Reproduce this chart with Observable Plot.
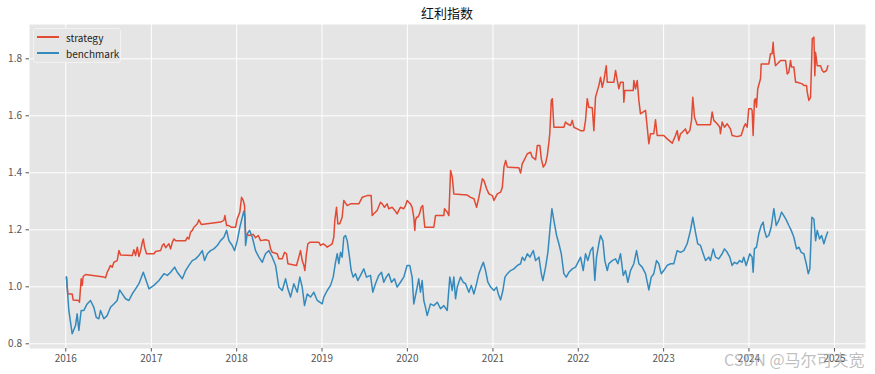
<!DOCTYPE html>
<html>
<head>
<meta charset="utf-8">
<script src="https://cdn.jsdelivr.net/npm/d3@7"></script>
<script src="https://cdn.jsdelivr.net/npm/@observablehq/plot@0.6"></script>
<style>
  body { margin: 0; background: #ffffff; }
  #wrap { position: relative; width: 875px; height: 374px; font-family: "Noto Sans CJK SC", "Noto Sans", sans-serif; }
  #title { position: absolute; left: 29px; width: 836px; top: 3px; text-align: center; font-size: 13px; color: #111; }
  #legend { position: absolute; left: 33px; top: 28px; width: 88px; height: 35px; box-sizing: border-box;
            border: 1px solid #f2f2f2; border-radius: 3px; background: #E5E5E5; }
  .lg-row { position: absolute; left: 0; height: 16px; display: flex; align-items: center; font-size: 10px; color: #222; }
  .lg-line { display: inline-block; width: 22px; height: 2px; margin-left: 3px; margin-right: 7px; }
  #mark { position: absolute; left: 724px; top: 347px; font-size: 16px; color: rgba(170,170,170,0.75); white-space: nowrap; }
</style>
</head>
<body>
<div id="wrap"></div>
<script>
// ---- data (decimal year, value) ----
const stratYears = [
2016.008,2016.024,2016.075,2016.086,2016.153,2016.160,2016.180,2016.192,2016.203,2016.231,
2016.445,2016.465,2016.484,2016.504,2016.523,2016.543,2016.562,2016.601,2016.621,2016.640,
2016.777,2016.796,2016.816,2016.836,2016.855,2016.875,2016.894,2016.906,2016.921,2016.944,
2017.031,2017.050,2017.109,2017.128,2017.148,2017.167,2017.206,2017.226,2017.246,2017.265,
2017.285,2017.402,2017.421,2017.440,2017.460,2017.480,
2017.499,2017.539,2017.557,2017.585,2017.811,2017.850,2017.862,2017.882,2017.909,2017.937,
2017.987,2018.007,2018.037,2018.057,2018.077,2018.092,2018.104,2018.143,2018.194,2018.221,
2018.253,2018.280,2018.338,2018.377,2018.397,2018.417,2018.475,2018.494,2018.534,2018.561,
2018.584,2018.600,2018.701,2018.728,2018.748,2018.768,2018.787,2018.799,2018.815,2018.834,
2018.857,2018.963,2018.983,2019.014,2019.042,
2019.061,2019.119,2019.138,2019.150,2019.170,2019.185,2019.208,2019.236,2019.255,2019.295,
2019.334,2019.431,2019.471,2019.529,2019.576,2019.588,2019.607,2019.646,2019.685,2019.705,
2019.732,2019.763,2019.782,2019.822,2019.853,2019.880,2019.899,2019.919,2019.958,2019.978,
2019.998,2020.016,2020.036,2020.056,2020.075,2020.087,2020.095,2020.107,2020.122,2020.142,
2020.162,2020.180,2020.192,2020.204,2020.309,2020.329,2020.426,2020.434,2020.466,2020.485,
2020.505,2020.525,2020.543,2020.700,2020.739,2020.778,2020.809,2020.836,2020.876,2020.895,
2020.926,2020.953,2020.993,2021.012,2021.051,2021.090,2021.110,2021.129,2021.149,2021.169,
2021.304,2021.324,2021.344,2021.363,2021.403,2021.441,2021.461,2021.500,2021.520,2021.550,
2021.567,2021.590,2021.617,2021.637,2021.656,2021.667,2021.684,2021.696,2021.714,2021.831,
2021.851,2021.871,2021.910,2021.930,2021.948,2021.988,
2022.027,2022.066,2022.085,2022.105,2022.124,2022.164,2022.183,2022.202,2022.241,2022.261,
2022.281,2022.300,2022.328,2022.340,2022.417,2022.437,2022.457,2022.476,2022.495,2022.527,
2022.534,2022.546,2022.644,2022.651,2022.671,2022.691,2022.710,2022.729,2022.788,2022.808,
2022.827,2022.846,2022.885,2022.905,2022.925,2023.002,2023.042,2023.101,2023.139,2023.159,
2023.178,2023.198,2023.218,2023.256,2023.276,2023.307,2023.327,2023.342,2023.362,2023.393,
2023.549,2023.569,2023.588,2023.628,2023.658,2023.666,2023.686,2023.713,2023.745,2023.783,
2023.803,2023.862,2023.909,2023.939,2023.959,2023.979,2023.998,2024.026,2024.037,2024.049,
2024.064,2024.076,2024.088,2024.103,2024.135,2024.143,2024.155,2024.232,2024.252,2024.271,
2024.283,2024.291,2024.310,2024.330,2024.369,2024.428,2024.447,2024.466,2024.486,2024.498,
2024.525,2024.545,2024.564,2024.623,2024.642,2024.673,2024.681,2024.700,2024.720,2024.740,
2024.759,2024.770,2024.778,2024.798,2024.837,2024.857,2024.876,2024.907,2024.923
];
const stratValues = [
1.034,0.975,0.975,0.954,0.952,0.946,1.028,1.005,1.036,1.043,
1.034,1.032,1.051,1.063,1.075,1.069,1.086,1.092,1.127,1.112,
1.110,1.130,1.110,1.139,1.106,1.127,1.156,1.168,1.139,1.116,
1.116,1.124,1.127,1.145,1.151,1.137,1.151,1.133,1.156,1.168,
1.162,1.162,1.174,1.168,1.192,1.198,
1.209,1.221,1.235,1.219,1.227,1.233,1.250,1.215,1.215,1.209,
1.209,1.239,1.262,1.314,1.303,1.285,1.186,1.180,1.184,1.172,
1.180,1.162,1.165,1.162,1.133,1.121,1.116,1.098,1.098,1.121,
1.116,1.081,1.075,1.104,1.127,1.092,1.075,1.057,1.110,1.151,
1.156,1.156,1.145,1.151,1.145,
1.139,1.151,1.174,1.233,1.279,1.221,1.221,1.244,1.303,1.285,
1.291,1.291,1.314,1.320,1.320,1.250,1.256,1.268,1.297,1.291,
1.279,1.291,1.274,1.279,1.268,1.256,1.268,1.279,1.274,1.285,
1.303,1.297,1.291,1.279,1.244,1.198,1.233,1.244,1.244,1.256,
1.279,1.285,1.244,1.209,1.209,1.250,1.250,1.274,1.262,1.250,
1.408,1.385,1.326,1.322,1.314,1.309,1.279,1.314,1.379,1.373,
1.344,1.326,1.320,1.303,1.326,1.332,1.349,1.420,1.443,1.420,
1.418,1.399,1.432,1.443,1.467,1.472,1.455,1.446,1.496,1.496,
1.449,1.420,1.432,1.461,1.507,1.542,1.654,1.660,1.560,1.560,
1.578,1.572,1.566,1.584,1.560,1.554,
1.548,1.548,1.584,1.660,1.630,1.628,1.548,1.665,1.706,1.735,
1.700,1.724,1.776,1.718,1.718,1.759,1.724,1.695,1.718,1.718,
1.648,1.689,1.689,1.724,1.695,1.724,1.654,1.607,1.619,1.560,
1.502,1.537,1.537,1.586,1.531,1.531,1.519,1.504,1.531,1.548,
1.513,1.537,1.542,1.554,1.537,1.548,1.584,1.665,1.595,1.569,
1.569,1.613,1.584,1.572,1.560,1.537,1.578,1.560,1.572,1.554,
1.531,1.527,1.531,1.560,1.572,1.560,1.625,1.625,1.619,1.531,
1.654,1.660,1.630,1.695,1.730,1.782,1.782,1.782,1.818,1.818,
1.858,1.818,1.776,1.782,1.794,1.794,1.747,1.753,1.794,1.771,
1.771,1.718,1.718,1.712,1.706,1.706,1.683,1.654,1.665,1.870,
1.876,1.741,1.823,1.776,1.776,1.759,1.753,1.759,1.776
];
const benchYears = [
2016.008,2016.036,2016.075,2016.114,2016.133,2016.153,2016.180,2016.211,2016.250,2016.289,
2016.328,2016.356,2016.387,2016.406,2016.445,2016.484,2016.523,2016.562,2016.601,2016.629,
2016.660,2016.699,2016.738,2016.777,2016.816,2016.855,2016.906,
2016.972,2017.030,2017.089,2017.148,2017.187,2017.226,2017.273,2017.304,2017.363,2017.402,
2017.440,2017.480,2017.519,2017.557,2017.597,2017.624,2017.656,2017.694,2017.733,2017.773,
2017.811,2017.850,2017.882,2017.909,2017.948,2017.975,2018.007,2018.037,2018.066,2018.084,
2018.096,2018.104,2018.124,2018.151,2018.183,2018.221,2018.260,2018.300,2018.338,2018.377,
2018.417,2018.456,2018.494,2018.534,2018.573,2018.600,2018.631,2018.670,2018.710,2018.740,
2018.768,2018.795,2018.827,2018.865,2018.904,2018.944,2019.002,
2019.021,2019.061,2019.100,2019.131,2019.158,2019.178,2019.197,2019.217,2019.236,2019.255,
2019.275,2019.295,2019.322,2019.342,2019.365,2019.392,2019.419,2019.451,2019.489,2019.521,
2019.568,2019.595,2019.626,2019.665,2019.697,2019.724,2019.752,2019.782,2019.814,2019.849,
2019.880,2019.919,2019.958,2019.997,2020.028,2020.056,2020.075,2020.107,2020.133,2020.153,
2020.173,2020.192,2020.212,2020.232,2020.270,2020.309,2020.349,2020.388,2020.426,2020.466,
2020.496,
2020.505,2020.524,2020.543,2020.563,2020.583,2020.622,2020.653,2020.680,2020.719,2020.747,
2020.778,2020.809,2020.836,2020.864,2020.888,2020.914,2020.941,2020.973,2021.012,2021.043,
2021.063,2021.090,2021.117,2021.141,2021.169,2021.207,2021.246,2021.286,2021.324,2021.344,
2021.371,2021.403,2021.433,2021.473,2021.500,2021.539,2021.567,2021.585,2021.617,2021.644,
2021.667,2021.691,2021.714,2021.746,2021.773,2021.801,2021.831,2021.859,2021.890,2021.930,
2021.968,2022.007,
2022.027,2022.058,2022.085,2022.112,2022.144,2022.171,2022.194,2022.214,2022.241,2022.261,
2022.288,2022.311,2022.340,2022.358,2022.398,2022.437,2022.464,2022.495,2022.527,2022.554,
2022.581,2022.612,2022.651,2022.683,2022.710,2022.749,2022.788,2022.827,2022.855,2022.885,
2022.917,2022.944,2022.972,2023.002,2023.042,2023.081,2023.119,2023.159,2023.198,2023.237,
2023.276,2023.315,2023.342,2023.373,2023.400,2023.432,2023.464,2023.491,2023.529,
2023.549,2023.581,2023.608,2023.646,2023.686,2023.713,2023.745,2023.775,2023.803,2023.830,
2023.862,2023.892,2023.920,2023.939,2023.967,2023.986,2024.009,2024.037,2024.049,2024.064,
2024.088,2024.115,2024.143,2024.166,2024.181,2024.205,2024.232,2024.260,2024.291,2024.319,
2024.349,2024.381,2024.407,2024.439,2024.466,2024.494,2024.525,2024.556,2024.583,2024.611,
2024.642,2024.670,2024.693,2024.712,2024.735,2024.759,2024.779,2024.798,2024.825,2024.849,
2024.876,2024.898,2024.920
];
const benchValues = [
1.034,0.917,0.835,0.864,0.905,0.847,0.917,0.917,0.940,0.952,
0.928,0.893,0.888,0.917,0.888,0.899,0.928,0.940,0.952,0.989,
0.975,0.958,0.952,0.975,0.993,1.011,1.051,
0.993,1.005,1.022,1.046,1.040,1.051,1.069,1.051,1.028,1.057,
1.075,1.092,1.098,1.110,1.127,1.092,1.116,1.127,1.133,1.145,
1.162,1.174,1.198,1.162,1.145,1.127,1.162,1.209,1.244,1.265,
1.244,1.145,1.186,1.198,1.174,1.127,1.104,1.086,1.116,1.127,
1.104,1.075,0.999,0.987,1.028,0.993,0.964,1.011,0.981,1.034,
0.999,0.934,0.975,0.964,0.981,0.952,0.940,
0.964,0.987,1.005,1.034,1.086,1.116,1.081,1.121,1.104,1.174,
1.180,1.162,1.104,1.057,1.034,1.046,1.022,1.040,1.063,1.034,
1.040,0.981,1.011,1.040,1.051,1.016,1.034,1.046,1.016,1.028,
0.999,1.016,1.034,1.075,1.075,1.034,0.940,0.987,1.028,0.981,
1.022,0.952,0.928,0.899,0.940,0.934,0.946,0.923,0.934,0.917,
1.034,
1.022,0.987,1.034,0.958,0.999,1.034,1.016,1.011,0.981,1.005,
0.975,1.011,1.046,1.069,1.086,1.057,1.016,0.999,0.987,0.999,
0.975,0.954,0.987,1.034,1.046,1.057,1.063,1.075,1.081,1.104,
1.092,1.116,1.104,1.127,1.092,1.104,1.046,1.022,1.069,1.121,
1.198,1.274,1.233,1.180,1.151,1.116,1.046,1.034,1.051,1.063,
1.069,1.092,
1.104,1.057,1.116,1.092,1.127,1.139,1.022,1.104,1.151,1.180,
1.162,1.092,1.057,1.081,1.092,1.098,1.081,1.116,1.040,1.057,
1.016,1.057,1.081,1.127,1.081,1.069,1.046,0.989,1.034,1.046,
1.092,1.081,1.046,1.057,1.075,1.081,1.081,1.127,1.121,1.127,
1.151,1.198,1.244,1.192,1.151,1.145,1.116,1.092,1.104,
1.092,1.133,1.104,1.098,1.116,1.133,1.121,1.104,1.075,1.086,
1.081,1.092,1.086,1.104,1.075,1.092,1.116,1.104,1.051,1.133,
1.139,1.186,1.215,1.227,1.198,1.174,1.180,1.209,1.274,1.215,
1.233,1.262,1.250,1.233,1.215,1.198,1.174,1.133,1.139,1.121,
1.116,1.081,1.046,1.063,1.244,1.238,1.162,1.198,1.168,1.180,
1.151,1.174,1.192
];
const seriesNames = ["strategy", "benchmark"];
const seriesColors = ["#E24A33", "#348ABD"];
const xTickYears = [2016, 2017, 2018, 2019, 2020, 2021, 2022, 2023, 2024, 2025];
const yTickValues = [0.8, 1.0, 1.2, 1.4, 1.6, 1.8];
const titleText = "红利指数";
const watermark = "CSDN @马尔可夫宽";

function toDate(y) {
  const yr = Math.floor(y);
  const s = Date.UTC(yr, 0, 1), e = Date.UTC(yr + 1, 0, 1);
  return new Date(s + (y - yr) * (e - s));
}
const strat = stratYears.map((t, i) => ({date: toDate(t), value: stratValues[i]}));
const bench = benchYears.map((t, i) => ({date: toDate(t), value: benchValues[i]}));
const xTicks = xTickYears.map(y => toDate(y));

const chart = Plot.plot({
  width: 875, height: 374,
  marginLeft: 29, marginRight: 10, marginTop: 24, marginBottom: 26,
  style: {fontFamily: '"Noto Sans CJK SC", "Noto Sans", sans-serif', fontSize: "10px", background: "transparent"},
  x: {type: "utc", domain: [toDate(2015.575), toDate(2025.363)], label: null},
  y: {domain: [0.7835, 1.9204], label: null},
  marks: [
    Plot.frame({fill: "#E5E5E5", stroke: "none"}),
    Plot.gridX(xTicks, {stroke: "#ffffff", strokeOpacity: 1, strokeWidth: 1}),
    Plot.gridY(yTickValues, {stroke: "#ffffff", strokeOpacity: 1, strokeWidth: 1}),
    Plot.axisX(xTicks, {tickFormat: d3.utcFormat("%Y"), tickSize: 3.5, tickPadding: 3, color: "#555555", label: null}),
    Plot.axisY(yTickValues, {tickFormat: d => d.toFixed(1), tickSize: 3.5, tickPadding: 4, color: "#555555", label: null}),
    Plot.line(strat, {x: "date", y: "value", stroke: seriesColors[0], strokeWidth: 1.5}),
    Plot.line(bench, {x: "date", y: "value", stroke: seriesColors[1], strokeWidth: 1.5})
  ]
});

const wrap = document.getElementById("wrap");
wrap.appendChild(chart);
const t = document.createElement("div"); t.id = "title"; t.textContent = titleText; wrap.appendChild(t);
const lg = document.createElement("div"); lg.id = "legend";
seriesNames.forEach((n, i) => {
  const row = document.createElement("div"); row.className = "lg-row"; row.style.top = (i === 0 ? 0 : 16) + "px";
  const ln = document.createElement("span"); ln.className = "lg-line"; ln.style.background = seriesColors[i];
  const tx = document.createElement("span"); tx.textContent = n;
  row.appendChild(ln); row.appendChild(tx); lg.appendChild(row);
});
wrap.appendChild(lg);
const m = document.createElement("div"); m.id = "mark"; m.textContent = watermark; wrap.appendChild(m);
</script>
</body>
</html>
